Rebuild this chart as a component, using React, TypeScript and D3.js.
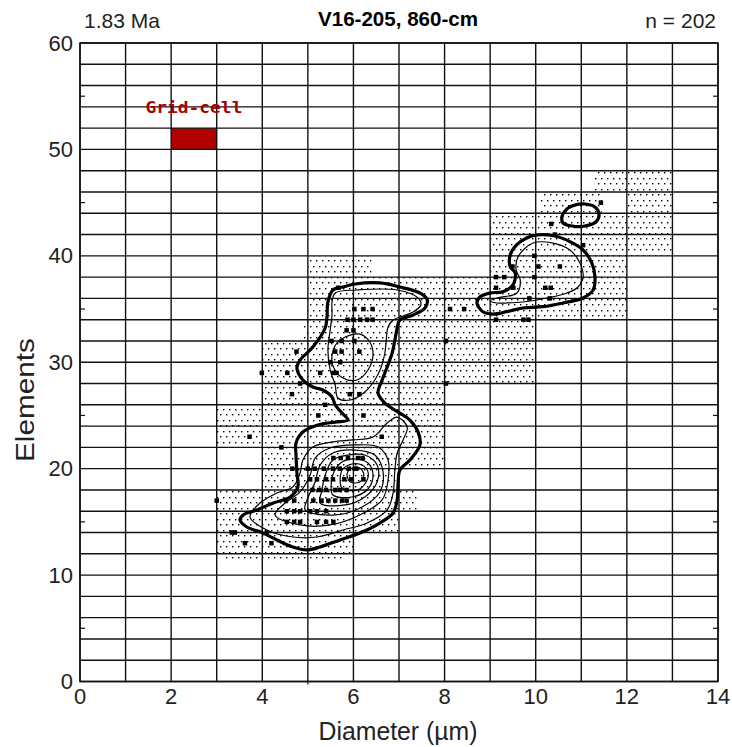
import React from 'react';
import * as d3 from 'd3';

// ---------- axis / labels ----------
const xTickValues = [0, 2, 4, 6, 8, 10, 12, 14];
const yTickValues = [0, 10, 20, 30, 40, 50, 60];
const yMinorTicks = [5, 15, 25, 35, 45, 55];
const xMinorTicks = [5];
const titleText = 'V16-205, 860-cm';
const ageText = '1.83 Ma';
const countText = 'n = 202';
const xLabel = 'Diameter (\u00b5m)';
const yLabel = 'Elements';
const legendText = 'Grid-cell';
const legendCell = [2, 3, 50, 52]; // x0,x1,y0,y1

// ---------- stippled (occupied) grid regions: [x0, x1, y0, y1] ----------
const stippleCells: number[][] = [
  [11.3, 13.0, 46, 48],
  [10.1, 11.45, 44, 46], [12.0, 13.0, 44, 46],
  [9.0, 13.0, 42, 44],
  [9.0, 13.0, 40, 42],
  [5.0, 6.4, 38, 40], [9.0, 12.0, 38, 40],
  [5.0, 12.0, 36, 38],
  [5.0, 12.0, 34, 36],
  [4.9, 10.0, 32, 34],
  [4.0, 10.0, 30, 32],
  [4.0, 10.0, 28, 30],
  [4.0, 8.0, 26, 28],
  [3.0, 8.0, 24, 26],
  [3.0, 8.0, 22, 24],
  [4.0, 8.0, 20, 22],
  [4.0, 7.0, 18, 20],
  [3.0, 7.4, 16, 18],
  [3.0, 7.0, 14, 16],
  [3.0, 6.0, 12, 14],
  [3.2, 5.8, 11.5, 12],
];

// ---------- measured particles [diameter, elements] ----------
const pointsRight: number[][] = [
  [11.43, 45], [10.34, 43], [10.42, 42], [11.04, 41], [9.97, 40],
  [10.06, 39], [10.53, 39], [9.49, 39],
  [9.97, 38], [9.13, 38], [9.31, 38],
  [10.21, 37], [10.33, 37], [9.51, 37], [9.13, 37],
  [9.86, 36], [10.31, 36],
  [8.12, 35], [8.43, 35],
  [9.13, 34], [9.73, 34], [9.84, 34],
  [8.03, 32], [8.03, 28],
];
const pointsUpper: number[][] = [
  [5.67, 37],
  [6.02, 35], [6.22, 35], [6.42, 35],
  [5.87, 34], [6.0, 34], [6.15, 34], [6.3, 34], [6.42, 34],
  [5.85, 33], [6.0, 33],
  [5.52, 32], [5.74, 32], [6.02, 32],
  [4.75, 31], [5.6, 31], [5.74, 31], [6.13, 31],
  [5.49, 30], [5.71, 30],
  [3.99, 29], [4.55, 29], [5.27, 29], [5.56, 29], [5.63, 29],
  [4.83, 28],
  [4.65, 27], [5.92, 27], [6.13, 27],
  [5.38, 26],
  [5.23, 25], [6.22, 25],
];
const pointsLower: number[][] = [
  [3.72, 23], [6.62, 23], [4.42, 22],
  [5.56, 21], [5.72, 21], [5.88, 21], [6.1, 21], [6.2, 21],
  [4.66, 20], [5.0, 20], [5.15, 20], [5.35, 20], [5.55, 20], [5.7, 20], [5.9, 20], [6.05, 20],
  [5.05, 19], [5.2, 19], [5.4, 19], [5.55, 19], [5.8, 19], [5.95, 19], [6.22, 19],
  [5.1, 18], [5.25, 18], [5.4, 18], [5.6, 18], [5.7, 18], [5.85, 18],
  [3.0, 17], [4.52, 17], [4.7, 17], [5.12, 17], [5.3, 17], [5.45, 17], [5.6, 17], [5.75, 17], [5.85, 17],
  [4.54, 16], [4.7, 16], [4.83, 16], [5.05, 16], [5.2, 16], [5.4, 16],
  [4.54, 15], [4.7, 15], [4.83, 15], [5.2, 15], [5.4, 15], [5.56, 15],
  [3.33, 14], [3.4, 14], [4.1, 14],
  [3.62, 13], [4.2, 13],
];

// ---------- density contours (traced) ----------
const contourOuterMain: number[][] = [
  [5.44, 35.66], [5.55, 36.79], [5.77, 37.07], [6.04, 37.35], [6.58, 37.45], [7.02, 37.07],
  [7.46, 36.51], [7.62, 35.85], [7.57, 35.10], [7.31, 34.44], [7.02, 33.97], [6.96, 33.22],
  [6.91, 32.09], [6.85, 30.87], [6.74, 29.55], [6.63, 28.33], [6.54, 27.11], [6.69, 26.17],
  [6.98, 25.32], [7.24, 24.57], [7.42, 23.44], [7.46, 22.23], [7.24, 20.81], [7.02, 19.87],
  [6.98, 18.65], [6.96, 17.06], [6.87, 15.83], [6.58, 14.89], [6.14, 13.95], [5.71, 13.30],
  [5.27, 12.64], [4.98, 12.36], [4.67, 12.64], [4.32, 13.30], [4.02, 13.95], [3.66, 14.52],
  [3.51, 15.18], [3.58, 15.65], [3.88, 16.12], [4.24, 16.77], [4.61, 17.34], [4.78, 18.28],
  [4.76, 19.59], [4.74, 21.28], [4.74, 22.41], [4.89, 23.44], [5.22, 24.10], [5.60, 24.38],
  [5.88, 24.57], [5.75, 25.23], [5.60, 25.98], [5.53, 26.73], [5.33, 27.39], [5.11, 27.67],
  [4.89, 28.33], [4.76, 29.46], [4.83, 30.21], [5.11, 31.43], [5.38, 33.22], [5.42, 34.25],
];
const contourOuterRight: number[][] = [
  [10.02, 41.96], [10.42, 41.86], [10.75, 41.33], [11.04, 40.55], [11.23, 39.33], [11.30, 38.04],
  [11.26, 36.79], [11.04, 36.04], [10.60, 35.57], [10.16, 35.22], [9.72, 35.10], [9.36, 34.75],
  [9.06, 34.53], [8.84, 34.75], [8.71, 35.57], [8.78, 36.16], [9.00, 36.51], [9.28, 36.63],
  [9.50, 37.26], [9.55, 38.39], [9.44, 38.98], [9.44, 40.08], [9.58, 41.02], [9.80, 41.68],
];
const contourOuterSmall: number[][] = [
  [10.57, 43.55], [10.66, 44.30], [10.86, 44.77], [11.08, 44.87], [11.30, 44.59],
  [11.39, 43.93], [11.32, 43.18], [11.08, 42.80], [10.80, 42.80], [10.60, 43.08],
];
const contourInnerRight: number[][] = [
  [9.61, 39.89], [9.94, 41.20], [10.38, 41.20], [10.75, 40.55], [10.97, 39.33], [11.04, 38.01],
  [10.93, 37.07], [10.69, 36.51], [10.25, 36.04], [9.72, 35.66], [9.37, 35.57], [9.15, 35.57],
  [9.00, 35.76], [9.15, 36.04], [9.59, 36.51], [9.66, 37.73], [9.57, 38.67],
];
const contourInnerUpper: number[][] = [
  [5.53, 35.66], [5.60, 36.51], [6.08, 36.79], [6.96, 36.79], [7.42, 36.04], [7.48, 35.38],
  [7.31, 34.72], [6.87, 33.97], [6.76, 33.31], [6.72, 32.09], [6.69, 30.87], [6.61, 29.55],
  [6.47, 28.33], [6.25, 27.20], [5.93, 26.45], [5.66, 26.64], [5.60, 27.86], [5.49, 29.27],
  [5.44, 31.15], [5.49, 33.03], [5.53, 34.44],
];
const contourLoopUpper: number[][] = [
  [5.82, 32.37], [6.14, 32.65], [6.36, 31.90], [6.43, 30.68], [6.32, 29.27],
  [6.08, 28.33], [5.77, 28.52], [5.57, 29.46], [5.53, 30.68], [5.64, 31.81],
];
const ringA: number[][] = [
  [3.73, 15.46], [4.10, 14.24], [4.67, 13.58], [5.20, 13.58], [5.77, 14.24], [6.30, 14.89],
  [6.74, 16.12], [6.87, 17.71], [6.91, 19.87], [6.96, 21.47], [7.09, 22.70], [7.18, 23.91],
  [6.96, 24.85], [6.74, 24.29], [6.43, 22.97], [5.99, 22.70], [5.55, 22.51], [5.11, 22.04],
  [4.89, 20.81], [4.83, 19.59], [4.67, 18.28], [4.32, 17.71], [3.95, 16.77],
];
const ringB: number[][] = [
  [4.28, 15.65], [4.83, 14.71], [5.49, 14.71], [6.14, 15.65], [6.63, 17.06], [6.76, 18.93],
  [6.76, 20.81], [6.54, 22.04], [6.04, 22.23], [5.49, 21.94], [5.16, 21.00], [5.05, 19.40],
  [4.83, 17.81], [4.50, 16.77],
];
const ringC: number[][] = [
  [4.94, 16.12], [5.60, 15.65], [6.19, 16.40], [6.58, 17.81], [6.65, 19.69], [6.47, 21.28],
  [6.04, 21.75], [5.55, 21.47], [5.27, 20.34], [5.16, 18.75], [5.00, 17.24],
];
const ringD: number[][] = [
  [5.27, 16.77], [5.82, 16.59], [6.25, 17.34], [6.52, 18.75], [6.52, 20.34], [6.25, 21.28],
  [5.88, 21.28], [5.55, 20.81], [5.38, 19.40], [5.31, 17.99],
];
const ringE: number[][] = [
  [5.55, 17.52], [5.97, 17.34], [6.32, 18.09], [6.43, 19.40], [6.32, 20.53], [6.04, 20.91],
  [5.75, 20.63], [5.57, 19.69], [5.51, 18.47],
];
const ringF: number[][] = [
  [5.75, 18.18], [6.08, 17.99], [6.28, 18.75], [6.32, 19.69], [6.19, 20.34], [5.97, 20.44],
  [5.77, 19.97], [5.71, 19.12],
];
const ringG: number[][] = [
  [5.93, 18.75], [6.14, 18.75], [6.23, 19.40], [6.14, 20.06], [5.97, 20.06], [5.86, 19.50],
];

const thickContours = [contourOuterMain, contourOuterRight, contourOuterSmall];
const thinContours = [contourInnerRight, contourInnerUpper, contourLoopUpper, ringA, ringB, ringC, ringD, ringE, ringF, ringG];

const W = 732;
const H = 747;

export default function App() {
  const x = d3.scaleLinear().domain([0, 14]).range([80, 718]);
  const y = d3.scaleLinear().domain([0, 60]).range([681.5, 43]);
  const line = d3
    .line<number[]>()
    .x((d) => x(d[0]))
    .y((d) => y(d[1]))
    .curve(d3.curveCatmullRomClosed.alpha(0.5));

  const xGrid = d3.range(0, 15, 1);
  const yGrid = d3.range(0, 61, 2);
  const allPoints = [...pointsRight, ...pointsUpper, ...pointsLower];
  const font = "'Liberation Sans', Arial, sans-serif";
  const ms = 4.5;

  return (
    <svg
      width={W}
      height={H}
      viewBox={`0 0 ${W} ${H}`}
      style={{ position: 'absolute', left: 0, top: 0, background: '#fff' }}
    >
      <defs>
        <pattern id="stip" patternUnits="userSpaceOnUse" x={0} y={0} width={6} height={11}>
          <rect x={1} y={2} width={1.4} height={1.4} fill="#000" />
          <rect x={4} y={7} width={1.4} height={1.4} fill="#000" />
        </pattern>
      </defs>
      <rect x={0} y={0} width={W} height={H} fill="#fff" />

      {/* stippled regions */}
      {stippleCells.map((c, i) => (
        <rect
          key={'s' + i}
          x={x(c[0])}
          y={y(c[3])}
          width={x(c[1]) - x(c[0])}
          height={y(c[2]) - y(c[3])}
          fill="url(#stip)"
        />
      ))}

      {/* legend grid cell */}
      <rect
        x={x(legendCell[0])}
        y={y(legendCell[3])}
        width={x(legendCell[1]) - x(legendCell[0])}
        height={y(legendCell[2]) - y(legendCell[3])}
        fill="#b00000"
      />

      {/* grid */}
      {xGrid.map((v) => (
        <line key={'gx' + v} x1={x(v)} x2={x(v)} y1={y(0)} y2={y(60)} stroke="#111" strokeWidth={1.4} />
      ))}
      {yGrid.map((v) => (
        <line key={'gy' + v} x1={x(0)} x2={x(14)} y1={y(v)} y2={y(v)} stroke="#111" strokeWidth={1.4} />
      ))}

      {/* minor ticks */}
      {yMinorTicks.map((v) => (
        <g key={'my' + v}>
          <line x1={x(0)} x2={x(0) + 5} y1={y(v)} y2={y(v)} stroke="#111" strokeWidth={1.2} />
          <line x1={x(14)} x2={x(14) - 5} y1={y(v)} y2={y(v)} stroke="#111" strokeWidth={1.2} />
        </g>
      ))}
      {xMinorTicks.map((v) => (
        <line key={'mx' + v} x1={x(v)} x2={x(v)} y1={y(0)} y2={y(0) + 3} stroke="#111" strokeWidth={1.2} />
      ))}

      {/* legend label */}
      <text
        x={(x(legendCell[0]) + x(legendCell[1])) / 2}
        y={113}
        textAnchor="middle"
        fontFamily="'DejaVu Sans Mono', monospace"
        fontWeight="bold"
        fontSize={15}
        fill="#a80000"
        textLength={97}
        lengthAdjust="spacingAndGlyphs"
      >
        {legendText}
      </text>

      {/* contours */}
      {thinContours.map((c, i) => (
        <path key={'tc' + i} d={line(c) || ''} fill="none" stroke="#000" strokeWidth={1.2} />
      ))}
      {thickContours.map((c, i) => (
        <path key={'kc' + i} d={line(c) || ''} fill="none" stroke="#000" strokeWidth={3.2} strokeLinejoin="round" />
      ))}

      {/* particles */}
      {allPoints.map((p, i) => (
        <rect key={'p' + i} x={x(p[0]) - ms / 2} y={y(p[1]) - ms / 2} width={ms} height={ms} fill="#000" />
      ))}

      {/* border */}
      <rect x={x(0)} y={y(60)} width={x(14) - x(0)} height={y(0) - y(60)} fill="none" stroke="#111" strokeWidth={1.5} />

      {/* tick labels */}
      {xTickValues.map((v) => (
        <text key={'xt' + v} x={x(v)} y={704} textAnchor="middle" fontFamily={font} fontSize={22} fill="#222">
          {v}
        </text>
      ))}
      {yTickValues.map((v) => (
        <text key={'yt' + v} x={73} y={y(v) + 7.5} textAnchor="end" fontFamily={font} fontSize={22} fill="#222">
          {v}
        </text>
      ))}

      {/* titles */}
      <text x={398} y={26} textAnchor="middle" fontFamily={font} fontWeight="bold" fontSize={20} fill="#000" textLength={160} lengthAdjust="spacingAndGlyphs">
        {titleText}
      </text>
      <text x={84} y={28} fontFamily={font} fontSize={21} fill="#222" textLength={76} lengthAdjust="spacingAndGlyphs">
        {ageText}
      </text>
      <text x={716} y={28} textAnchor="end" fontFamily={font} fontSize={21} fill="#222">
        {countText}
      </text>
      <text x={398} y={740} textAnchor="middle" fontFamily={font} fontSize={25} fill="#222" textLength={159} lengthAdjust="spacingAndGlyphs">
        {xLabel}
      </text>
      <text
        transform={`translate(34, 400) rotate(-90)`}
        textAnchor="middle"
        fontFamily={font}
        fontSize={25}
        fill="#222"
        textLength={124}
        lengthAdjust="spacingAndGlyphs"
      >
        {yLabel}
      </text>
    </svg>
  );
}
